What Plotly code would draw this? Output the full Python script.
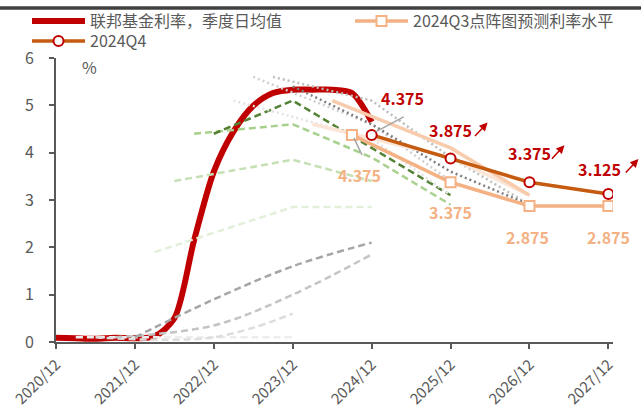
import plotly.graph_objects as go

FONT = "Noto Sans CJK SC, Noto Sans, sans-serif"
AXIS_GREY = "#595959"

# x positions are months after 2020/12
tick_months = [0, 12, 24, 36, 48, 60, 72, 84]
tick_labels = ["2020/12", "2021/12", "2022/12", "2023/12",
               "2024/12", "2025/12", "2026/12", "2027/12"]

# Effective fed funds rate, quarterly average of daily values
fed_months = [0, 3, 6, 9, 12, 15, 18, 21, 24, 27, 30, 33, 36, 39, 42, 45, 48]
fed_rate = [0.09, 0.08, 0.07, 0.09, 0.08, 0.12, 0.5, 2.15, 3.6, 4.45,
            4.99, 5.26, 5.33, 5.33, 5.33, 5.26, 4.65]

# September 2024 dot plot medians
q3_months = [45, 60, 72, 84]
q3_rate = [4.375, 3.375, 2.875, 2.875]

# December 2024 dot plot medians
q4_months = [48, 60, 72, 84]
q4_rate = [4.375, 3.875, 3.375, 3.125]

# Earlier dot plot medians (first point placed at the meeting month)
dp_2021_03_m = [3, 24, 36]
dp_2021_03_r = [0.1, 0.1, 0.1]
dp_2021_06_m = [6, 24, 36]
dp_2021_06_r = [0.1, 0.1, 0.6]
dp_2021_09_m = [9, 24, 36, 48]
dp_2021_09_r = [0.1, 0.35, 1.0, 1.85]
dp_2021_12_m = [12, 24, 36, 48]
dp_2021_12_r = [0.1, 0.9, 1.6, 2.1]
dp_2022_03_m = [15, 36, 48]
dp_2022_03_r = [1.9, 2.85, 2.85]
dp_2022_06_m = [18, 36, 48]
dp_2022_06_r = [3.4, 3.85, 3.4]
dp_2022_09_m = [21, 36, 48, 60]
dp_2022_09_r = [4.4, 4.6, 3.9, 2.9]
dp_2022_12_m = [24, 36, 48, 60]
dp_2022_12_r = [4.4, 5.1, 4.1, 3.1]
dp_2023_03_m = [27, 48, 60]
dp_2023_03_r = [5.1, 4.3, 3.1]
dp_2023_06_m = [30, 48, 60]
dp_2023_06_r = [5.6, 4.6, 3.4]
dp_2023_09_m = [33, 48, 60, 72]
dp_2023_09_r = [5.6, 5.1, 3.9, 2.9]
dp_2023_12_m = [36, 48, 60, 72]
dp_2023_12_r = [5.4, 4.6, 3.6, 2.9]
dp_2024_03_m = [39, 60, 72]
dp_2024_03_r = [4.6, 3.9, 3.1]
dp_2024_06_m = [42, 60, 72]
dp_2024_06_r = [5.1, 4.1, 3.1]

fig = go.Figure()

fig.add_trace(go.Scatter(
    x=fed_months, y=fed_rate, mode="lines", name="联邦基金利率，季度日均值",
    line=dict(color="#C00000", width=6, shape="spline", smoothing=0.8),
    legend="legend",
))

# (months, rates, colour, dash pattern, width, shape)
history = [
    (dp_2021_03_m, dp_2021_03_r, "#EDEDED", "7px,4px", 2.5, "spline"),
    (dp_2021_06_m, dp_2021_06_r, "#DDDDDD", "7px,4px", 2.5, "spline"),
    (dp_2021_09_m, dp_2021_09_r, "#C4C4C4", "7px,4px", 2.5, "spline"),
    (dp_2021_12_m, dp_2021_12_r, "#A6A6A6", "7px,4px", 2.5, "spline"),
    (dp_2022_03_m, dp_2022_03_r, "#E2F0D9", "7px,4px", 2.5, "linear"),
    (dp_2022_06_m, dp_2022_06_r, "#C5E0B4", "7px,4px", 2.5, "linear"),
    (dp_2022_09_m, dp_2022_09_r, "#A9D18E", "7px,4px", 2.5, "linear"),
    (dp_2022_12_m, dp_2022_12_r, "#548235", "7px,4px", 2.5, "linear"),
    (dp_2023_03_m, dp_2023_03_r, "#E3E3E3", "2px,3px", 2.5, "linear"),
    (dp_2023_06_m, dp_2023_06_r, "#D0D0D0", "2px,3px", 2.5, "linear"),
    (dp_2023_09_m, dp_2023_09_r, "#BDBDBD", "2px,3px", 2.5, "linear"),
    (dp_2023_12_m, dp_2023_12_r, "#7F7F7F", "2px,3px", 2.5, "linear"),
    (dp_2024_03_m, dp_2024_03_r, "#FBE5D6", "solid", 3.5, "linear"),
    (dp_2024_06_m, dp_2024_06_r, "#F8CBAD", "solid", 3.5, "linear"),
]
for xs, ys, col, dash, w, shp in history:
    fig.add_trace(go.Scatter(
        x=xs, y=ys, mode="lines", showlegend=False, hoverinfo="skip",
        line=dict(color=col, width=w, dash=dash, shape=shp),
    ))

fig.add_trace(go.Scatter(
    x=q3_months, y=q3_rate, mode="lines+markers", name="2024Q3点阵图预测利率水平",
    line=dict(color="#F4B183", width=3.5),
    marker=dict(symbol="square", size=10, color="white",
                line=dict(color="#F4B183", width=2)),
    legend="legend2",
))
fig.add_trace(go.Scatter(
    x=q4_months, y=q4_rate, mode="lines+markers", name="2024Q4",
    line=dict(color="#C55A11", width=3.5),
    marker=dict(symbol="circle", size=10, color="white",
                line=dict(color="#C00000", width=2)),
    legend="legend3",
))

annotations = []
shapes = []

# Value labels for the December 2024 medians
q4_shift = [(31, 37), (0, 29), (0, 29), (-9, 25)]
for m, r, (dx, dy) in zip(q4_months, q4_rate, q4_shift):
    annotations.append(dict(
        x=m, y=r, text=f"<b>{r:.3f}</b>", showarrow=False,
        xshift=dx, yshift=dy,
        font=dict(family=FONT, size=16, color="#C00000"),
    ))
# Small upward arrows beside the later labels
for m, r, (dx, dy) in zip(q4_months[1:], q4_rate[1:], [(37, 36), (35, 37), (30, 35)]):
    annotations.append(dict(
        x=m, y=r, text="", showarrow=True, ax=-14, ay=15,
        xshift=dx, yshift=dy, arrowhead=2, arrowsize=1.1, arrowwidth=1.5,
        arrowcolor="#C00000",
    ))

# Value labels for the September 2024 medians
q3_shift = [(8, -40), (0, -30), (-2, -31), (0, -31)]
for m, r, (dx, dy) in zip(q3_months, q3_rate, q3_shift):
    annotations.append(dict(
        x=m, y=r, text=f"<b>{r:.3f}</b>", showarrow=False,
        xshift=dx, yshift=dy,
        font=dict(family=FONT, size=16, color="#F4B183"),
    ))

# Leader lines from the first labels to their points
shapes.append(dict(
    type="line", xref="x", yref="y", xsizemode="pixel", ysizemode="pixel",
    xanchor=q4_months[0], yanchor=q4_rate[0], x0=4, y0=3, x1=32, y1=18,
    line=dict(color="#A6A6A6", width=1.5),
))
shapes.append(dict(
    type="line", xref="x", yref="y", xsizemode="pixel", ysizemode="pixel",
    xanchor=q3_months[0], yanchor=q3_rate[0], x0=2, y0=-3, x1=10, y1=-20,
    line=dict(color="#A6A6A6", width=1.5),
))

# Rule across the top of the figure
shapes.append(dict(
    type="line", xref="paper", yref="paper", x0=-0.2, x1=1.2,
    y0=1.176, y1=1.176, line=dict(color="#404040", width=3.5),
))

# Unit label beside the top of the y axis
annotations.append(dict(
    xref="paper", yref="paper", x=0.061, y=0.968, text="%", showarrow=False,
    xanchor="center", yanchor="middle",
    font=dict(family=FONT, size=16, color=AXIS_GREY),
))


def legend_box(px, py):
    return dict(
        orientation="h", xref="container", yref="container",
        x=px / 641, y=1 - py / 412, xanchor="left", yanchor="top",
        font=dict(family=FONT, size=16, color=AXIS_GREY),
        itemwidth=53, bgcolor="rgba(0,0,0,0)",
    )


fig.update_layout(
    width=641, height=412,
    margin=dict(l=56, r=28, t=58, b=70, autoexpand=False),
    paper_bgcolor="white", plot_bgcolor="white",
    font=dict(family=FONT, size=16, color=AXIS_GREY),
    showlegend=True,
    legend=legend_box(27, 4),
    legend2=legend_box(350, 4),
    legend3=legend_box(27, 24),
    xaxis=dict(
        range=[0, 84.7], tickvals=tick_months, ticktext=tick_labels,
        tickangle=-45, ticks="outside", ticklen=5, tickwidth=2,
        tickcolor=AXIS_GREY, showline=True, linecolor=AXIS_GREY, linewidth=2,
        showgrid=False, zeroline=False, automargin=False, ticklabelstandoff=1,
        tickfont=dict(family=FONT, size=15, color=AXIS_GREY),
    ),
    yaxis=dict(
        range=[0, 6], dtick=1, ticks="outside", ticklen=5, tickwidth=2,
        tickcolor=AXIS_GREY, showline=True, linecolor=AXIS_GREY, linewidth=2,
        showgrid=False, zeroline=False, ticklabelstandoff=12, automargin=False,
        tickfont=dict(family=FONT, size=16, color=AXIS_GREY),
    ),
    annotations=annotations,
    shapes=shapes,
    hovermode=False,
)

fig.write_html("out.html")
